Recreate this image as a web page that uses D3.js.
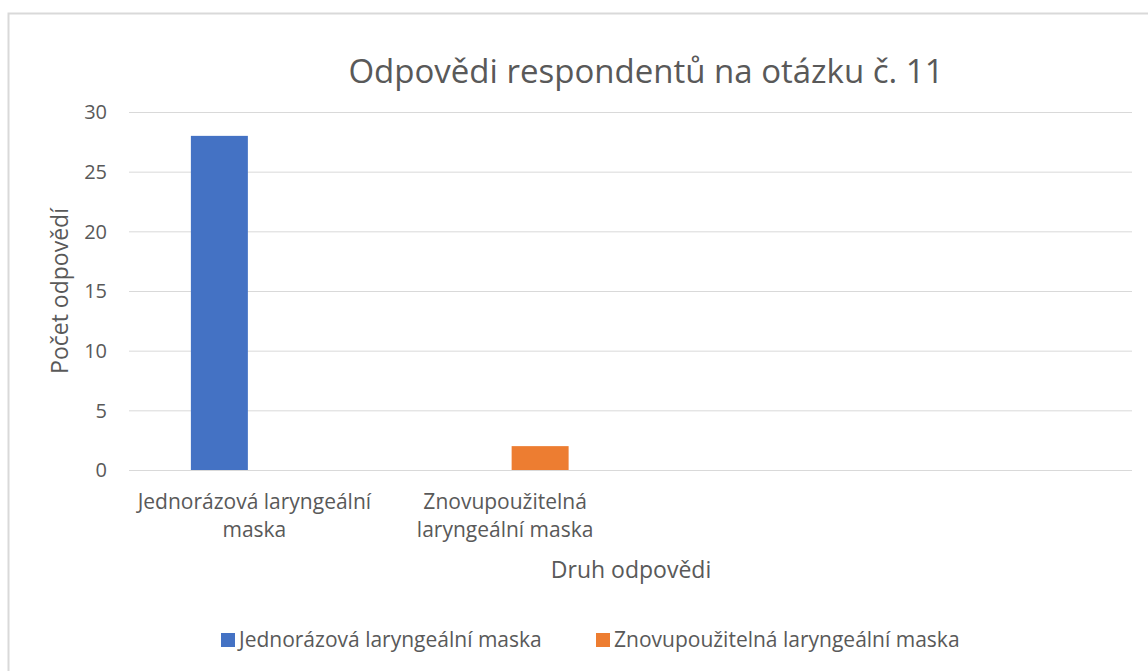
<!DOCTYPE html>
<html>
<head>
<meta charset="utf-8">
<script src="https://cdn.jsdelivr.net/npm/d3@7"></script>
<style>
  body { margin: 0; background: #fff; }
  text { font-family: "Open Sans", "Noto Sans", sans-serif; fill: #595959; }
</style>
</head>
<body>
<script>
// chart data
var categories = ["Jednorázová laryngeální maska", "Znovupoužitelná laryngeální maska", "", ""];
var seriesNames = ["Jednorázová laryngeální maska", "Znovupoužitelná laryngeální maska"];
var seriesValues = [
    [28, 0, 0, 0],
    [0, 2, 0, 0]
];
var yTicks = [0, 5, 10, 15, 20, 25, 30];
var colors = ["#4472c4", "#ed7d31"];

var width = 1148, height = 671;
var plotLeft = 129, plotRight = 1132, plotTop = 112, plotBottom = 470;

var svg = d3.select("body").append("svg")
    .attr("width", width)
    .attr("height", height);

svg.append("rect")
    .attr("width", width).attr("height", height)
    .attr("fill", "#fff");

// chart frame
svg.append("rect")
    .attr("x", 8.5).attr("y", 13.5)
    .attr("width", width + 20).attr("height", height + 20)
    .attr("fill", "none")
    .attr("stroke", "#d9d9d9")
    .attr("stroke-width", 2);

var x0 = d3.scaleBand()
    .domain(d3.range(categories.length))
    .range([plotLeft, plotRight]);

var x1 = d3.scaleBand()
    .domain(d3.range(seriesNames.length))
    .range([0, x0.bandwidth()])
    .paddingInner(0.186)
    .paddingOuter(0.884);

var y = d3.scaleLinear()
    .domain([0, 30])
    .range([plotBottom, plotTop]);

// gridlines
svg.append("g").selectAll("line")
    .data(yTicks)
    .join("line")
    .attr("x1", plotLeft).attr("x2", plotRight)
    .attr("y1", function (d) { return y(d) + 0.5; })
    .attr("y2", function (d) { return y(d) + 0.5; })
    .attr("stroke", "#d9d9d9")
    .attr("stroke-width", 1);

// y tick labels
svg.append("g").selectAll("text")
    .data(yTicks)
    .join("text")
    .attr("x", 107)
    .attr("y", function (d) { return y(d); })
    .attr("dy", "0.36em")
    .attr("text-anchor", "end")
    .style("font-size", "20px")
    .text(function (d) { return d; });

// bars
seriesValues.forEach(function (vals, s) {
    svg.append("g").selectAll("rect")
        .data(vals)
        .join("rect")
        .attr("x", function (d, i) { return x0(i) + x1(s); })
        .attr("width", x1.bandwidth())
        .attr("y", function (d) { return y(d); })
        .attr("height", function (d) { return plotBottom - y(d); })
        .attr("fill", colors[s]);
});

// category labels, wrapped to the band width
function wrapLabel(g, str, maxW) {
    var words = str.split(" ");
    var lines = [];
    var cur = "";
    var probe = g.append("text").style("font-size", "21px");
    words.forEach(function (w) {
        var t = cur ? cur + " " + w : w;
        probe.text(t);
        if (probe.node().getComputedTextLength() > maxW && cur) {
            lines.push(cur);
            cur = w;
        } else {
            cur = t;
        }
    });
    if (cur) lines.push(cur);
    probe.remove();
    return lines;
}

categories.forEach(function (c, i) {
    if (!c) return;
    var g = svg.append("g");
    var lines = wrapLabel(g, c, x0.bandwidth() - 6);
    g.selectAll("text")
        .data(lines)
        .join("text")
        .attr("x", x0(i) + x0.bandwidth() / 2)
        .attr("y", function (d, k) { return 509 + k * 28; })
        .attr("text-anchor", "middle")
        .style("font-size", "21px")
        .text(function (d) { return d; });
});

// titles
svg.append("text")
    .attr("x", 646).attr("y", 83)
    .attr("text-anchor", "middle")
    .style("font-size", "33px")
    .text("Odpovědi respondentů na otázku č. 11");

svg.append("text")
    .attr("transform", "translate(68,291) rotate(-90)")
    .attr("text-anchor", "middle")
    .style("font-size", "23px")
    .text("Počet odpovědí");

svg.append("text")
    .attr("x", 631).attr("y", 578)
    .attr("text-anchor", "middle")
    .style("font-size", "23px")
    .text("Druh odpovědi");

// legend
var legendX = [221, 596];
var legend = svg.append("g").selectAll("g")
    .data(seriesNames)
    .join("g")
    .attr("transform", function (d, i) { return "translate(" + legendX[i] + ",640)"; });

legend.append("rect")
    .attr("y", -7).attr("width", 14).attr("height", 14)
    .attr("fill", function (d, i) { return colors[i]; });

legend.append("text")
    .attr("x", 18).attr("y", 7)
    .style("font-size", "21px")
    .text(function (d) { return d; });
</script>
</body>
</html>
